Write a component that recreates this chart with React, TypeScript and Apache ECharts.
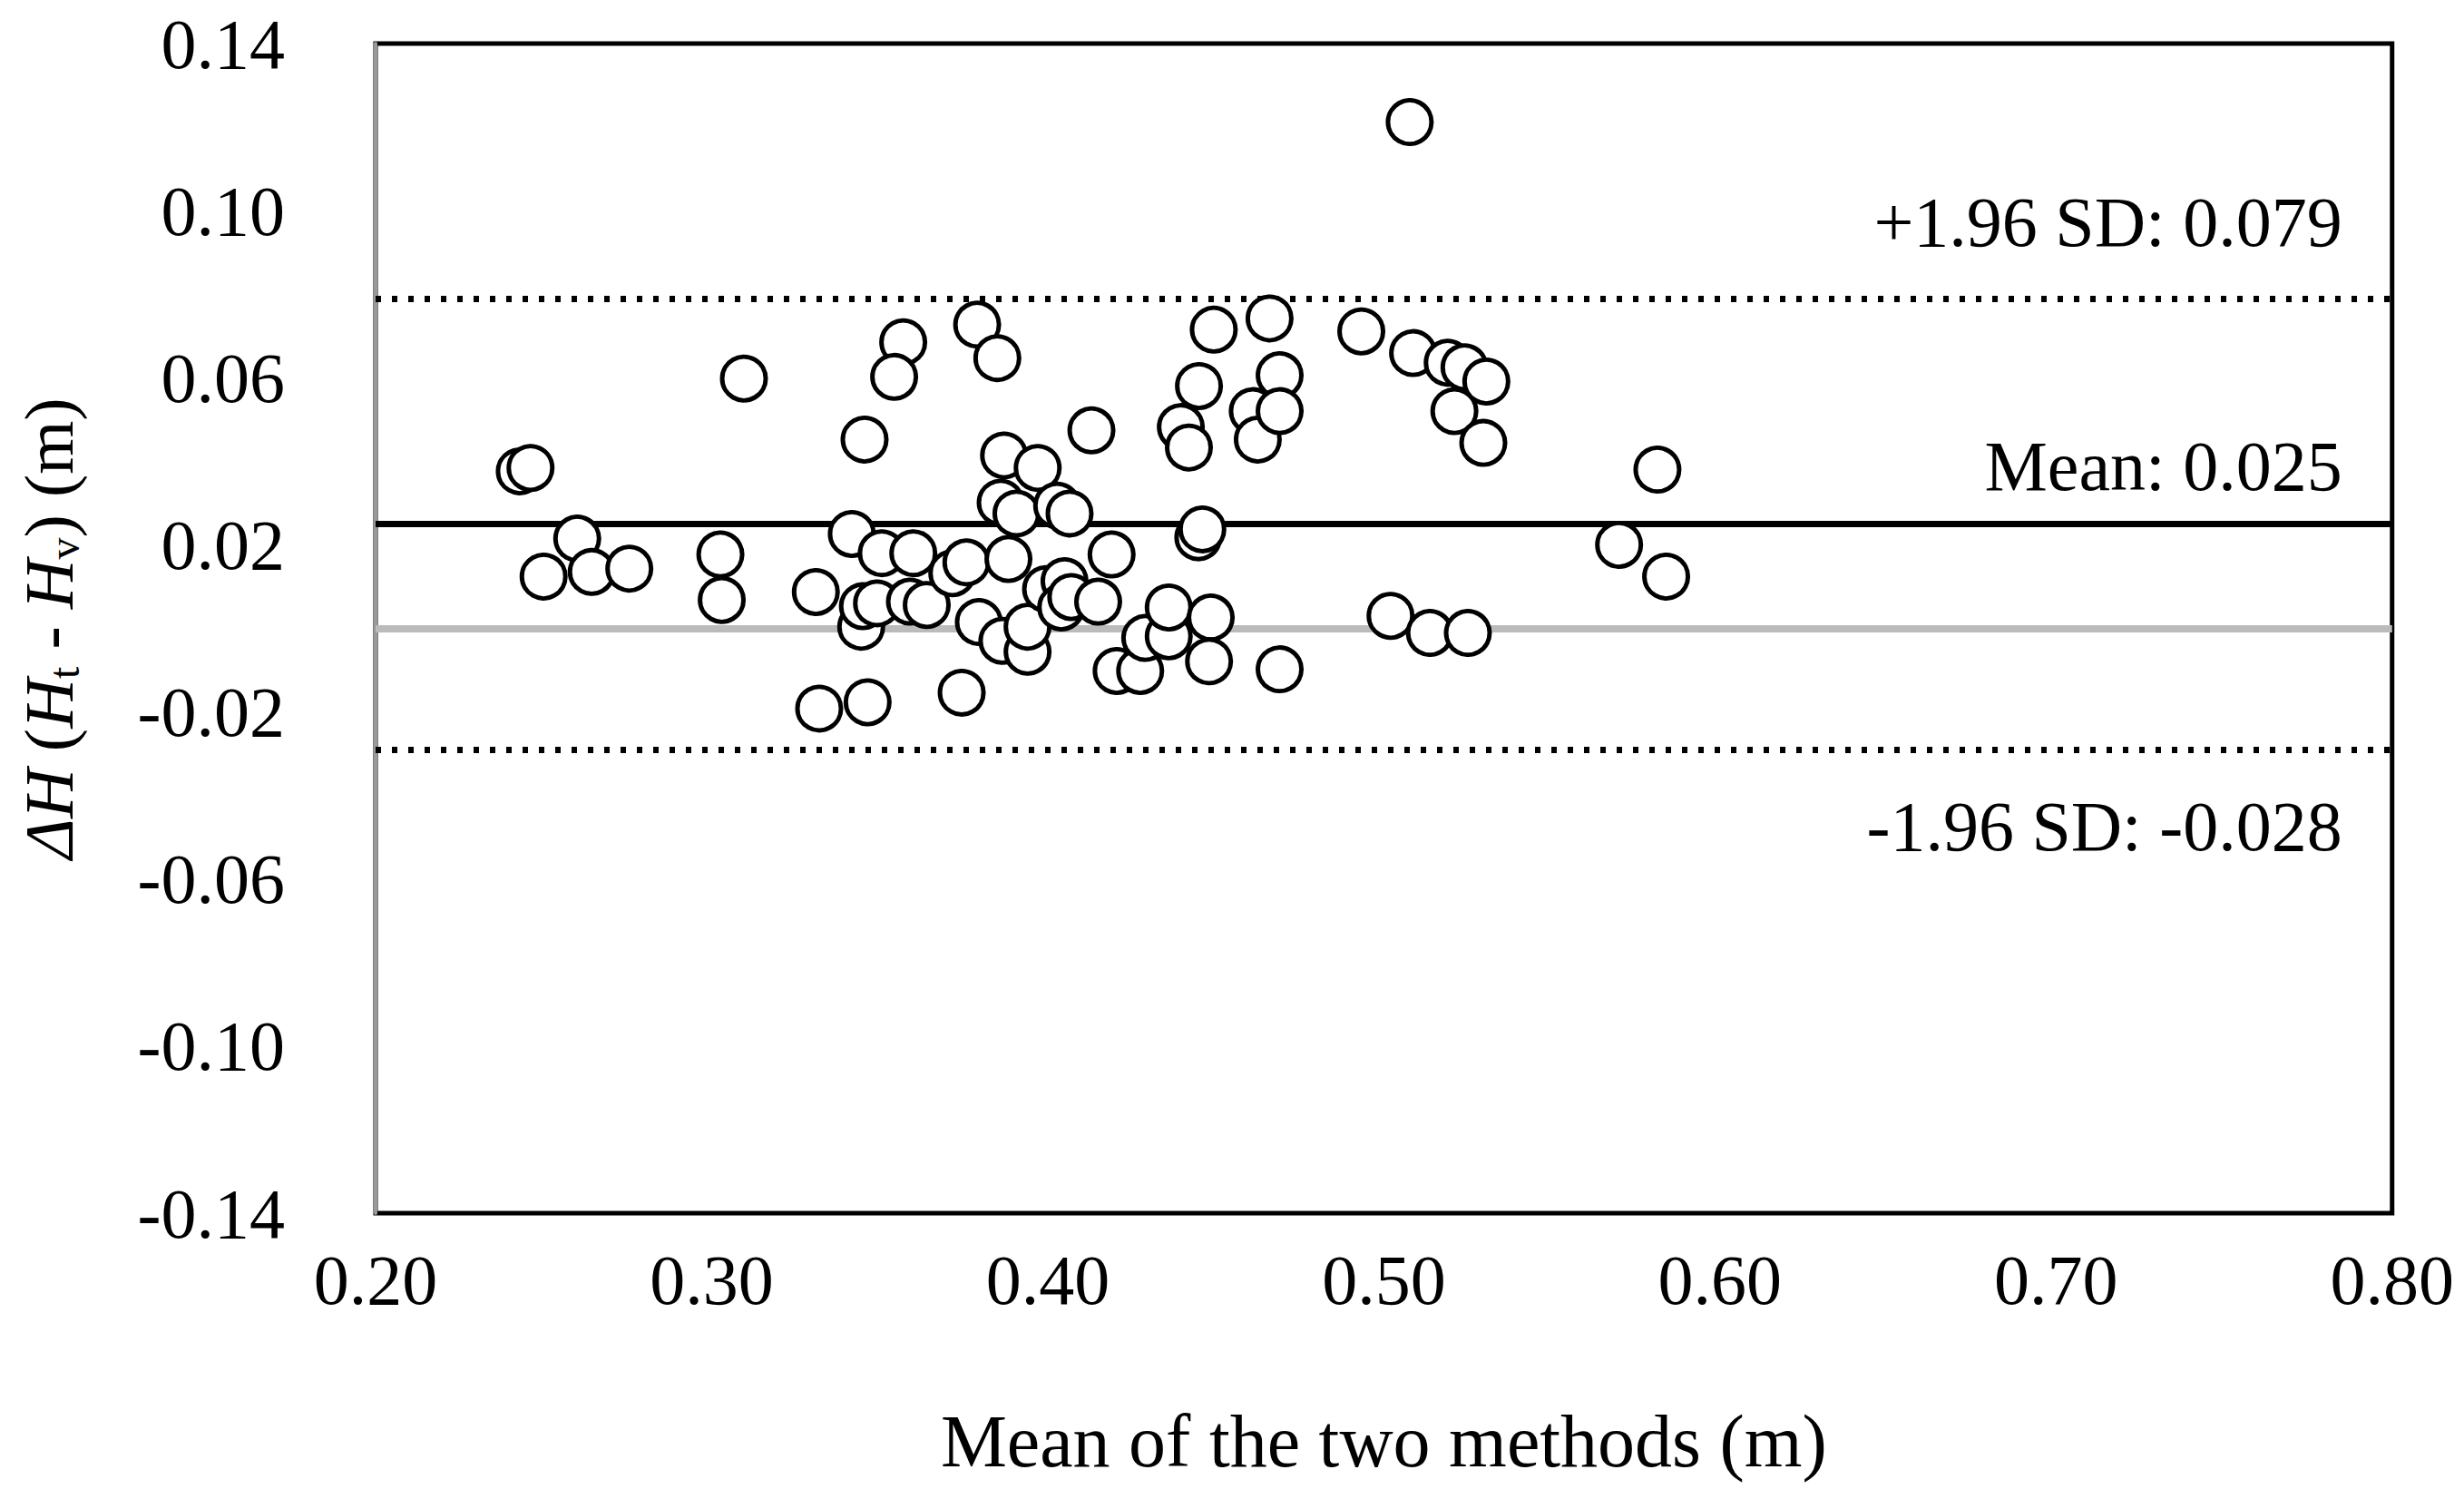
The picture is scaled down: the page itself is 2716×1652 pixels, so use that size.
import React, { useRef, useEffect } from 'react'
import * as echarts from 'echarts'

const meanX = [0.5077,0.2429,0.2461,0.26,0.25,0.2643,0.2755,0.3096,0.3026,0.303,0.331,0.332,0.3417,0.3455,0.3445,0.3464,0.345,0.3492,0.357,0.3543,0.3506,0.36,0.359,0.364,0.3716,0.3758,0.3744,0.379,0.385,0.3795,0.3865,0.387,0.386,0.3907,0.3883,0.394,0.394,0.397,0.3995,0.4028,0.4065,0.405,0.404,0.407,0.413,0.415,0.419,0.4205,0.4275,0.429,0.436,0.436,0.4396,0.442,0.445,0.4448,0.446,0.4485,0.448,0.4494,0.466,0.461,0.4625,0.469,0.469,0.469,0.4933,0.502,0.5087,0.5137,0.519,0.524,0.521,0.525,0.5305,0.5296,0.57,0.5814,0.584]
const diffY = [0.1212,0.0376,0.0384,0.0215,0.0124,0.0135,0.0143,0.0598,0.0177,0.0068,0.0087,-0.0192,0.0226,0.0452,0.0004,-0.0177,0.0053,0.006,0.0685,0.0602,0.018,0.018,0.0064,0.0056,0.0132,0.0158,-0.0154,0.0727,0.0647,0.0015,-0.003,0.0414,0.0301,0.0275,0.0166,-0.0056,0.0004,0.0384,0.0094,0.0294,0.0275,0.0113,0.005,0.0075,0.0474,0.0064,0.0177,-0.0102,-0.0102,-0.0023,-0.0019,0.005,0.0482,0.0433,0.058,0.0218,0.0237,0.0026,-0.0079,0.0715,0.0742,0.052,0.0452,0.0606,0.052,-0.0098,0.0711,0.003,0.0659,-0.0011,0.0636,0.0625,0.052,-0.0011,0.0591,0.0444,0.02,0.038,0.0124]
const upperLoA = 0.079
const meanDiff = 0.025
const lowerLoA = -0.029

const font = '"Liberation Serif", "DejaVu Serif", serif'

function App() {
  const chartRef = useRef(null)

  useEffect(() => {
    const chart = echarts.init(chartRef.current, null, { renderer: 'svg' })
    const lbl = { fontFamily: font, fontSize: 78, color: '#000' }
    chart.setOption({
      animation: false,
      grid: { left: 402, right: 68, top: 40, bottom: 307, show: true, borderColor: '#000', borderWidth: 5 },
      xAxis: {
        type: 'value', min: 0.2, max: 0.8, interval: 0.1,
        axisLine: { show: false }, axisTick: { show: false }, splitLine: { show: false },
        axisLabel: { ...lbl, margin: 34, formatter: (v: number) => v.toFixed(2) },
        name: 'Mean of the two methods (m)', nameLocation: 'middle', nameGap: 210,
        nameTextStyle: { ...lbl, fontSize: 82 },
      },
      yAxis: {
        type: 'value', min: -0.14, max: 0.14, interval: 0.02,
        axisLine: { show: true, onZero: false, lineStyle: { color: '#999', width: 4 } },
        axisTick: { show: false }, splitLine: { show: false },
        axisLabel: {
          ...lbl, margin: 100,
          formatter: (v: number) => (Math.round((v + 0.14) / 0.02) % 2 === 0 ? v.toFixed(2) : ''),
        },
        name: '{i|ΔH} ({i|H}{s|t} - {i|H}{s|v}) (m)', nameLocation: 'middle', nameGap: 320,
        nameTextStyle: {
          ...lbl, fontSize: 76,
          rich: {
            i: { fontFamily: font, fontSize: 76, fontStyle: 'italic', color: '#000' },
            s: { fontFamily: font, fontSize: 48, color: '#000', verticalAlign: 'bottom', padding: [32, 0, 0, 0] },
          },
        },
      },
      series: [{
        type: 'scatter',
        data: meanX.map((x, i) => [x, diffY[i]]),
        symbol: 'circle', symbolSize: 48,
        itemStyle: { color: '#fff', borderColor: '#000', borderWidth: 5, opacity: 1 },
        z: 5,
        markLine: {
          symbol: 'none', silent: true, precision: 4,
          data: [
            { yAxis: 0, lineStyle: { color: '#bbb', width: 8, type: 'solid' }, label: { show: false } },
            { yAxis: meanDiff, lineStyle: { color: '#000', width: 7, type: 'solid' },
              label: { show: true, position: 'insideEndTop', distance: [55, 25], formatter: 'Mean: 0.025', ...lbl } },
            { yAxis: upperLoA, lineStyle: { color: '#000', width: 7, type: [6, 12] },
              label: { show: true, position: 'insideEndTop', distance: [55, 45], formatter: '+1.96 SD: 0.079', ...lbl } },
            { yAxis: lowerLoA, lineStyle: { color: '#000', width: 7, type: [6, 12] },
              label: { show: true, position: 'insideEndBottom', distance: [55, 45], formatter: '-1.96 SD: -0.028', ...lbl } },
          ],
        },
      }],
    })
    return () => {
      chart.dispose()
    }
  }, [])

  return <div ref={chartRef} style={{ width: 2700, height: 1636 }}></div>
}

export default App
